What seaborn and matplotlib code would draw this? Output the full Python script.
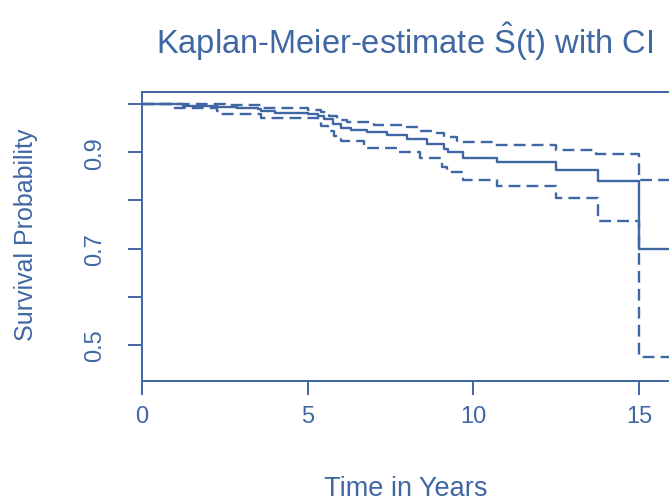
import matplotlib
matplotlib.use("Agg")
import matplotlib.pyplot as plt
import seaborn as sns
import pandas as pd

# ---- data ----
surv_t = [0, 1.24, 2.27, 2.87, 3.5, 3.6, 4.0, 5.0, 5.3, 5.5, 5.75, 6.0, 6.3, 6.8,
          7.4, 8.0, 8.6, 9.1, 9.25, 9.7, 10.7, 12.5, 13.75, 15.0]
surv_s = [1.0, 0.996, 0.994, 0.992, 0.990, 0.986, 0.982, 0.979, 0.975, 0.969, 0.958,
          0.950, 0.946, 0.942, 0.936, 0.927, 0.917, 0.907, 0.900, 0.888, 0.880,
          0.863, 0.840, 0.699]

upper_t = [0, 1.3, 2.5, 3.6, 5.0, 5.4, 5.65, 5.9, 6.2, 7.0, 8.0, 8.4, 8.8, 9.1,
           9.5, 10.6, 12.5, 13.7, 15.0]
upper_s = [1.0, 0.999, 0.997, 0.991, 0.988, 0.983, 0.975, 0.967, 0.962, 0.957,
           0.952, 0.945, 0.940, 0.932, 0.921, 0.915, 0.905, 0.896, 0.842]

lower_t = [0, 0.95, 2.27, 2.35, 3.6, 5.3, 5.4, 5.6, 5.8, 6.0, 6.7, 7.7, 8.4, 9.05,
           9.2, 9.7, 10.7, 12.5, 13.75, 15.0]
lower_s = [1.0, 0.991, 0.986, 0.979, 0.970, 0.963, 0.954, 0.944, 0.934, 0.923,
           0.909, 0.900, 0.888, 0.869, 0.859, 0.842, 0.830, 0.805, 0.757, 0.475]

x_ticks = [0, 5, 10, 15]
y_ticks = [0.5, 0.6, 0.7, 0.8, 0.9, 1.0]
y_ticklabels = ["0.5", "", "0.7", "", "0.9", ""]

title = r"Kaplan-Meier-estimate $\hat{\mathrm{S}}(\mathrm{t})$ with CI"
xlabel = "Time in Years"
ylabel = "Survival Probability"

# ---- style ----
sns.set_theme(style="white")
plt.rcParams["font.family"] = ["Liberation Sans", "DejaVu Sans"]
plt.rcParams["mathtext.fontset"] = "custom"
plt.rcParams["mathtext.rm"] = "Liberation Sans"
plt.rcParams["mathtext.it"] = "Liberation Sans:italic"
BLUE = "#3f67a3"

W, H = 669, 502
fig = plt.figure(figsize=(W / 100, H / 100), dpi=100)
left_px, right_px, top_px, bottom_px = 142, 690, 93, 382
ax = fig.add_axes([left_px / W, (H - bottom_px) / H,
                   (right_px - left_px) / W, (bottom_px - top_px) / H])

px_per_year = (639 - 142) / 15.0
xmax = (right_px - left_px) / px_per_year
ax.set_xlim(0, xmax)
ax.set_ylim(0.4253, 1.0249)


def extend(t, s):
    return pd.DataFrame({"t": list(t) + [xmax], "s": list(s) + [s[-1]]})


for t, s, ls in [(surv_t, surv_s, "-"), (upper_t, upper_s, "--"), (lower_t, lower_s, "--")]:
    df = extend(t, s)
    line_kw = dict(drawstyle="steps-post", color=BLUE, linewidth=1.7, estimator=None,
                   sort=False, ax=ax, clip_on=True)
    g = sns.lineplot(data=df, x="t", y="s", **line_kw)
    if ls == "--":
        g.lines[-1].set_linestyle((0, (5, 2.6)))

for sp in ax.spines.values():
    sp.set_color(BLUE)
    sp.set_linewidth(1.4)

ax.set_xticks(x_ticks)
ax.set_xticklabels([str(v) for v in x_ticks])
ax.set_yticks(y_ticks)
ax.set_yticklabels(y_ticklabels, rotation=90, va="center")
ax.tick_params(axis="both", direction="out", length=10, width=1.4, color=BLUE,
               labelcolor=BLUE, labelsize=17, left=True, bottom=True)
ax.tick_params(axis="x", pad=7)
ax.tick_params(axis="y", pad=16)
ax.set_xlabel("")
ax.set_ylabel("")

fig.text(405 / W, 1 - 42 / H, title, ha="center", va="center", color=BLUE, fontsize=23.5)
fig.text(406 / W, 1 - 489 / H, xlabel, ha="center", va="center", color=BLUE, fontsize=19.5)
fig.text(26 / W, 1 - 235 / H, ylabel, ha="center", va="center", color=BLUE,
         fontsize=18, rotation=90)

fig.savefig("out.png", dpi=100)
